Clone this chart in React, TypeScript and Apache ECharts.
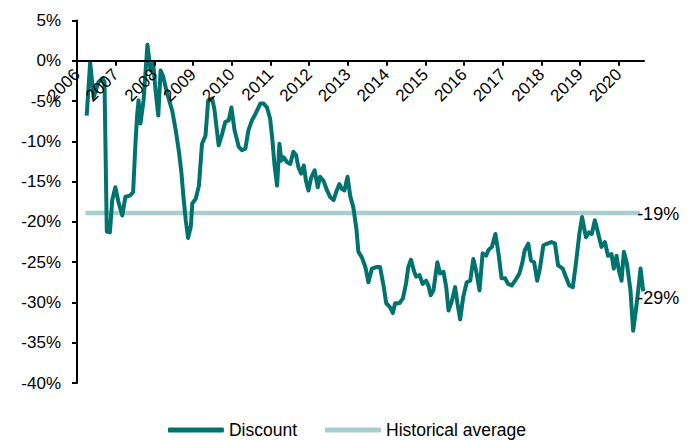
import React, { useEffect, useRef } from "react";
import * as echarts from "echarts";

// Decimal-year dates and discount values (%)
const dates: number[] = [
  2006.25, 2006.34, 2006.43, 2006.56, 2006.66, 2006.71, 2006.77, 2006.85, 2006.91, 2006.99,
  2007.07, 2007.17, 2007.25, 2007.38, 2007.45, 2007.51, 2007.55, 2007.59, 2007.64, 2007.72,
  2007.82, 2007.9, 2007.97, 2008.03, 2008.1, 2008.16, 2008.23, 2008.29, 2008.38, 2008.46,
  2008.55, 2008.64, 2008.7, 2008.75, 2008.81, 2008.87, 2008.94, 2008.98, 2009.07, 2009.15,
  2009.23, 2009.32, 2009.39, 2009.49, 2009.55, 2009.66, 2009.75, 2009.83, 2009.92, 2009.99,
  2010.07, 2010.18, 2010.26, 2010.35, 2010.43, 2010.52, 2010.61, 2010.74, 2010.82, 2010.91,
  2010.99, 2011.05, 2011.1, 2011.17, 2011.23, 2011.28, 2011.34, 2011.43, 2011.51, 2011.59,
  2011.66, 2011.72, 2011.79, 2011.86, 2011.92, 2011.98, 2012.05, 2012.14, 2012.22, 2012.28,
  2012.37, 2012.46, 2012.54, 2012.63, 2012.71, 2012.78, 2012.84, 2012.91, 2012.99, 2013.06,
  2013.14, 2013.22, 2013.27, 2013.36, 2013.45, 2013.53, 2013.62, 2013.75, 2013.83, 2013.92,
  2013.99, 2014.09, 2014.16, 2014.22, 2014.33, 2014.42, 2014.5, 2014.56, 2014.63, 2014.7,
  2014.76, 2014.85, 2014.93, 2015.02, 2015.08, 2015.14, 2015.21, 2015.31, 2015.38, 2015.47,
  2015.54, 2015.6, 2015.68, 2015.77, 2015.83, 2015.9, 2015.98, 2016.07, 2016.16, 2016.24,
  2016.31, 2016.4, 2016.48, 2016.57, 2016.63, 2016.72, 2016.81, 2016.89, 2016.97, 2017.06,
  2017.14, 2017.23, 2017.32, 2017.43, 2017.5, 2017.57, 2017.66, 2017.73, 2017.81, 2017.89,
  2017.96, 2018.05, 2018.15, 2018.26, 2018.35, 2018.43, 2018.55, 2018.63, 2018.72, 2018.81,
  2018.89, 2018.98, 2019.05, 2019.15, 2019.23, 2019.3, 2019.38, 2019.47, 2019.55, 2019.64,
  2019.72, 2019.81, 2019.87, 2019.94, 2020.0, 2020.07, 2020.13, 2020.21, 2020.3, 2020.37,
  2020.44, 2020.5, 2020.56, 2020.63,
];

const discount: number[] = [
  -6.8, -0.2, -4.5, -2.6, -2.2, -2.6, -21.2, -21.3, -17.3, -15.7,
  -17.5, -19.2, -16.9, -16.7, -16.3, -10.3, -7.0, -4.9, -7.8, -4.9,
  2.0, -1.2, -0.4, -3.7, -6.8, -1.2, -2.0, -3.3, -4.9, -6.2,
  -8.6, -11.5, -14.0, -16.9, -19.8, -22.0, -20.6, -17.7, -17.1, -15.5,
  -10.3, -9.3, -4.9, -4.7, -6.0, -10.5, -9.1, -7.6, -7.4, -5.8,
  -8.6, -10.7, -11.1, -10.9, -8.6, -7.4, -6.6, -5.3, -5.3, -5.8,
  -7.2, -9.9, -12.8, -15.5, -10.3, -12.4, -12.0, -12.6, -12.8, -11.3,
  -11.7, -13.2, -14.0, -13.0, -15.0, -16.1, -14.5, -13.6, -15.7, -14.4,
  -14.9, -16.1, -16.9, -17.3, -16.1, -15.3, -15.9, -16.1, -14.4, -16.8,
  -18.2, -20.9, -23.7, -24.4, -25.6, -27.5, -25.8, -25.6, -25.6, -27.9,
  -30.1, -30.6, -31.3, -30.1, -30.1, -29.5, -27.7, -25.6, -24.7, -26.0,
  -26.8, -26.6, -27.7, -27.3, -27.9, -29.1, -28.5, -25.0, -26.4, -26.2,
  -28.1, -31.0, -29.9, -28.1, -30.1, -32.1, -29.3, -27.5, -27.3, -24.6,
  -26.0, -28.5, -23.9, -24.2, -23.5, -23.1, -21.5, -23.9, -27.0, -27.0,
  -27.7, -27.9, -27.3, -26.4, -25.2, -23.5, -22.7, -24.8, -25.0, -27.3,
  -25.8, -22.9, -22.7, -22.5, -22.7, -25.4, -25.8, -26.8, -27.9, -28.1,
  -25.2, -21.5, -19.4, -21.9, -21.3, -21.5, -19.8, -21.5, -23.1, -22.5,
  -24.2, -24.0, -25.8, -24.2, -26.0, -27.3, -23.7, -25.2, -28.5, -33.5,
  -31.0, -28.5, -25.8, -28.6,
];

const avgDates: number[] = [2006.22, 2020.55];
const avgValues: number[] = [-18.9, -18.9];

const yearTicks: number[] = [
  2006, 2007, 2008, 2009, 2010, 2011, 2012, 2013, 2014, 2015, 2016, 2017, 2018, 2019, 2020,
];

const seriesNames = ["Discount", "Historical average"];
const endLabels = ["-29%", "-19%"];

const FONT = "'Liberation Sans', Arial, sans-serif";

const Y_MIN = -40;
const Y_MAX = 5;
const GRID_TOP = 20.5;
const GRID_BOTTOM = 57;
const CHART_H = 440;

export default function App() {
  const ref = useRef<HTMLDivElement>(null);

  useEffect(() => {
    document.body.style.margin = "0";
    if (!ref.current) return;
    const chart = echarts.init(ref.current, undefined, { renderer: "svg" });

    const discountData = dates.map((d, i) => [d, discount[i]]);
    const avgData = avgDates.map((d, i) => [d, avgValues[i]]);

    // place the x axis at the 0% level of the y scale
    const gridH = CHART_H - GRID_TOP - GRID_BOTTOM;
    const zeroFromBottom = (gridH * (0 - Y_MIN)) / (Y_MAX - Y_MIN);

    chart.setOption({
      animation: false,
      textStyle: { fontFamily: FONT },
      grid: {
        left: 77,
        right: 50,
        top: GRID_TOP,
        bottom: GRID_BOTTOM,
        containLabel: false,
        outerBoundsMode: "none",
      },
      legend: {
        left: "center",
        top: 416,
        itemWidth: 56,
        itemHeight: 5,
        itemGap: 28,
        icon: "roundRect",
        textStyle: { fontSize: 17.5, color: "#000", fontFamily: FONT },
        data: seriesNames,
      },
      xAxis: {
        type: "value",
        position: "bottom",
        offset: -zeroFromBottom,
        min: 2006,
        max: 2020.65,
        interval: 1,
        z: 10,
        axisLine: { onZero: false, lineStyle: { color: "#000", width: 2 } },
        axisTick: {
          show: true,
          length: 5,
          customValues: yearTicks,
          lineStyle: { color: "#000", width: 2 },
        },
        splitLine: { show: false },
        axisLabel: {
          customValues: yearTicks,
          rotate: 45,
          margin: 11,
          fontSize: 17,
          color: "#000",
          fontFamily: FONT,
          formatter: (v: number) => String(Math.round(v)),
        },
      },
      yAxis: {
        type: "value",
        min: Y_MIN,
        max: Y_MAX,
        interval: 5,
        z: 10,
        axisLine: { show: true, lineStyle: { color: "#000", width: 2 } },
        axisTick: { show: true, length: 5, lineStyle: { color: "#000", width: 2 } },
        splitLine: { show: false },
        axisLabel: {
          margin: 16,
          fontSize: 17,
          color: "#000",
          fontFamily: FONT,
          formatter: (v: number) => `${v}%`,
        },
      },
      series: [
        {
          name: seriesNames[1],
          type: "line",
          data: avgData,
          showSymbol: false,
          symbol: "none",
          z: 0,
          lineStyle: { color: "#A6CFCD", width: 4.5, cap: "butt" },
          itemStyle: { color: "#A6CFCD" },
          endLabel: {
            show: true,
            formatter: endLabels[1],
            distance: 0,
            offset: [-3, 1],
            fontSize: 18,
            color: "#000",
            fontFamily: FONT,
          },
        },
        {
          name: seriesNames[0],
          type: "line",
          data: discountData,
          showSymbol: false,
          symbol: "none",
          z: 1,
          lineStyle: { color: "#00736E", width: 4, join: "round" },
          itemStyle: { color: "#00736E" },
          endLabel: {
            show: true,
            formatter: endLabels[0],
            distance: 0,
            offset: [-6, 7],
            fontSize: 18,
            color: "#000",
            fontFamily: FONT,
          },
        },
      ],
    });

    return () => chart.dispose();
  }, []);

  return <div ref={ref} style={{ width: 694, height: 440 }} />;
}
